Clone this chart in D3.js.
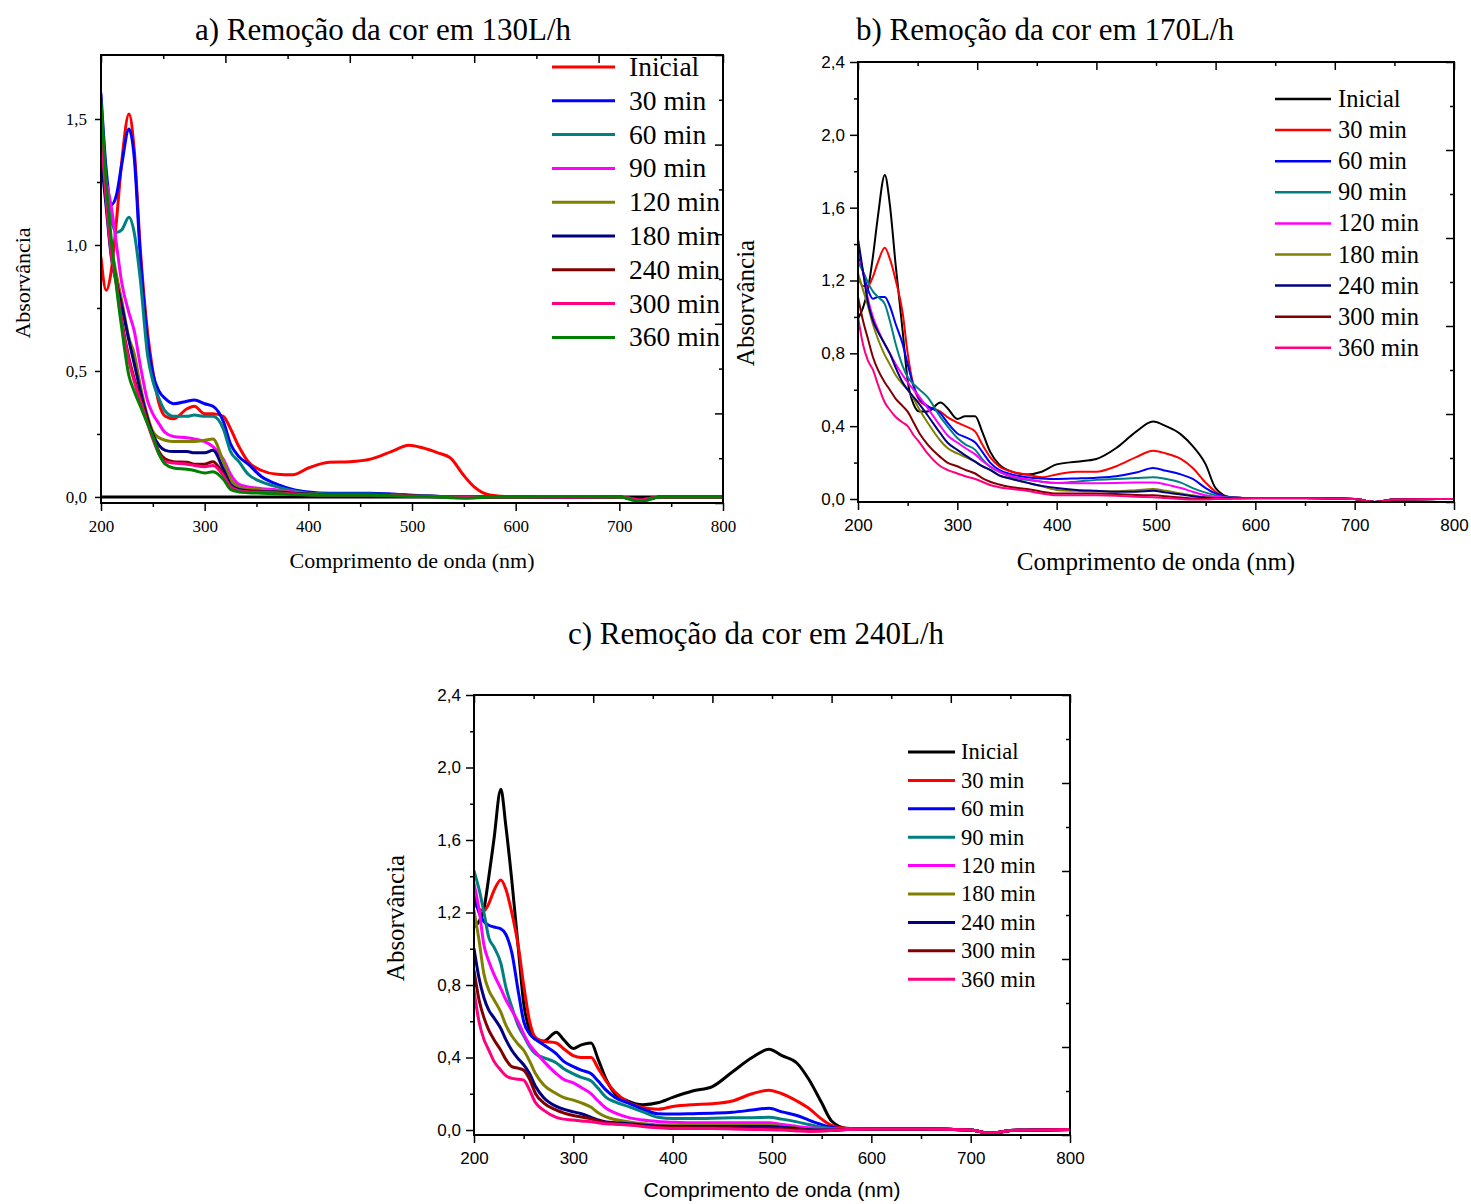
<!DOCTYPE html>
<html><head><meta charset="utf-8">
<script src="https://cdn.jsdelivr.net/npm/d3@7"></script>
<style>body{margin:0;background:#fff} svg{display:block}</style>
</head><body>
<svg id="chart" width="1471" height="1204"></svg>
<script>
// Wavelength grid (nm) shared by every spectrum
const wavelengths = [200,205,210,215,220,227,232,238,245,250,256,262,270,283,290,300,308,318,325,333,342,355,370,385,400,420,440,460,480,497,510,525,537,550,560,575,600,650,700,720,740,800];
const seriesLabels = ["Inicial","30 min","60 min","90 min","120 min","180 min","240 min","300 min","360 min"];
const xMajorTicks = [200,300,400,500,600,700,800];
const xMinorTicks = [250,350,450,550,650,750];

// a) 130 L/h
const abs130_inicial = [0.95,0.82,0.90,1.10,1.33,1.52,1.38,0.98,0.65,0.50,0.37,0.32,0.31,0.35,0.36,0.33,0.33,0.32,0.27,0.20,0.14,0.105,0.09,0.088,0.115,0.138,0.14,0.15,0.18,0.205,0.195,0.175,0.155,0.085,0.04,0.008,0.0,0.0,0.0,-0.01,0.0,0.0];
const abs130_30 = [1.60,1.30,1.16,1.20,1.32,1.46,1.35,0.95,0.62,0.49,0.42,0.39,0.37,0.38,0.385,0.37,0.36,0.30,0.21,0.16,0.13,0.08,0.05,0.03,0.02,0.015,0.015,0.015,0.012,0.008,0.005,0.003,0,0,0,0,0,0,0,-0.012,0,0];
const abs130_60 = [1.45,1.25,1.10,1.05,1.06,1.11,1.05,0.86,0.56,0.46,0.39,0.34,0.32,0.32,0.325,0.32,0.32,0.27,0.18,0.14,0.09,0.06,0.04,0.025,0.015,0.012,0.012,0.012,0.01,0.006,0.004,0.002,0,0,0,0,0,0,0,-0.012,0,0];
const abs130_90 = [1.35,1.25,1.15,1.00,0.85,0.73,0.66,0.52,0.38,0.33,0.29,0.255,0.24,0.235,0.23,0.22,0.20,0.15,0.09,0.05,0.04,0.033,0.028,0.02,0.012,0.01,0.01,0.01,0.008,0.005,0.003,0.002,0,0,0,0,0,0,0,-0.012,0,0];
const abs130_120 = [1.40,1.20,1.00,0.88,0.78,0.63,0.57,0.44,0.32,0.26,0.235,0.225,0.22,0.22,0.22,0.225,0.23,0.14,0.07,0.04,0.032,0.028,0.022,0.018,0.013,0.01,0.01,0.01,0.008,0.005,0.003,0.002,0,0,0,0,0,0,0,-0.012,0,0];
const abs130_180 = [1.35,1.15,0.95,0.85,0.76,0.62,0.53,0.42,0.31,0.25,0.205,0.185,0.18,0.18,0.175,0.175,0.185,0.11,0.05,0.03,0.025,0.022,0.02,0.015,0.012,0.01,0.01,0.01,0.008,0.005,0.003,0.002,0,0,0,0,0,0,0,-0.012,0,0];
const abs130_240 = [1.50,1.20,0.98,0.85,0.70,0.55,0.47,0.39,0.30,0.24,0.18,0.15,0.14,0.138,0.13,0.13,0.14,0.09,0.04,0.025,0.022,0.02,0.018,0.013,0.01,0.008,0.008,0.008,0.006,0.004,0.002,0.001,0,0,0,0,0,0,0,-0.012,0,0];
const abs130_300 = [1.45,1.18,0.96,0.84,0.69,0.54,0.46,0.38,0.29,0.23,0.17,0.14,0.135,0.13,0.125,0.12,0.125,0.085,0.04,0.025,0.02,0.018,0.016,0.012,0.009,0.008,0.008,0.008,0.006,0.004,0.002,0.001,0,0,0,0,0,0,0,-0.012,0,0];
const abs130_360 = [1.57,1.25,1.02,0.83,0.67,0.48,0.42,0.36,0.29,0.24,0.17,0.13,0.115,0.11,0.105,0.095,0.10,0.07,0.03,0.02,0.017,0.015,0.013,0.01,0.008,0.007,0.007,0.007,0.005,0.003,0.002,0.0,-0.003,-0.005,-0.004,0,0,0.002,0,-0.018,0,0];

// b) 170 L/h
const abs170_inicial = [0.99,1.05,1.15,1.33,1.55,1.78,1.62,1.28,0.92,0.65,0.52,0.48,0.48,0.53,0.50,0.44,0.455,0.455,0.37,0.26,0.19,0.15,0.135,0.15,0.19,0.205,0.22,0.28,0.37,0.425,0.40,0.355,0.29,0.19,0.06,0.01,0.005,0.005,0.0,-0.016,-0.003,0.0];
const abs170_30 = [1.22,1.17,1.17,1.22,1.30,1.38,1.32,1.20,1.02,0.80,0.62,0.54,0.51,0.48,0.45,0.42,0.40,0.37,0.30,0.23,0.18,0.15,0.135,0.12,0.135,0.15,0.15,0.18,0.23,0.265,0.25,0.22,0.17,0.09,0.04,0.01,0.005,0.005,0.0,-0.016,-0.003,0.0];
const abs170_60 = [1.35,1.25,1.15,1.10,1.11,1.11,1.06,0.96,0.85,0.74,0.62,0.55,0.51,0.47,0.42,0.36,0.34,0.31,0.26,0.20,0.16,0.135,0.12,0.113,0.11,0.113,0.117,0.125,0.145,0.17,0.155,0.135,0.11,0.06,0.03,0.01,0.005,0.005,0.0,-0.016,-0.003,0.0];
const abs170_90 = [1.30,1.25,1.19,1.14,1.11,1.07,0.98,0.85,0.73,0.67,0.63,0.60,0.56,0.45,0.40,0.335,0.30,0.27,0.22,0.176,0.15,0.12,0.105,0.095,0.088,0.095,0.105,0.11,0.115,0.12,0.11,0.09,0.06,0.035,0.02,0.008,0.005,0.005,0.0,-0.016,-0.003,0.0];
const abs170_120 = [1.39,1.25,1.10,1.00,0.93,0.85,0.80,0.74,0.68,0.64,0.60,0.56,0.50,0.40,0.35,0.31,0.28,0.245,0.21,0.18,0.15,0.125,0.11,0.095,0.088,0.087,0.087,0.088,0.09,0.09,0.08,0.06,0.04,0.02,0.012,0.006,0.005,0.005,0.0,-0.016,-0.003,0.0];
const abs170_180 = [1.24,1.15,1.06,0.96,0.88,0.79,0.74,0.68,0.63,0.60,0.55,0.49,0.42,0.32,0.28,0.25,0.23,0.205,0.18,0.16,0.13,0.11,0.09,0.07,0.05,0.045,0.042,0.042,0.048,0.055,0.045,0.03,0.02,0.01,0.006,0.005,0.005,0.005,0.0,-0.016,-0.003,0.0];
const abs170_240 = [1.43,1.25,1.08,0.98,0.92,0.85,0.80,0.72,0.64,0.60,0.56,0.52,0.46,0.36,0.31,0.27,0.24,0.205,0.18,0.16,0.13,0.11,0.09,0.072,0.06,0.05,0.045,0.04,0.04,0.045,0.035,0.025,0.015,0.008,0.005,0.005,0.005,0.005,0.0,-0.016,-0.003,0.0];
const abs170_300 = [1.11,0.98,0.88,0.78,0.71,0.64,0.60,0.55,0.51,0.48,0.42,0.36,0.30,0.23,0.20,0.18,0.16,0.14,0.115,0.095,0.08,0.065,0.055,0.04,0.03,0.03,0.03,0.028,0.022,0.02,0.015,0.008,0.003,0.0,0.0,0.002,0.004,0.004,0.0,-0.016,-0.003,0.0];
const abs170_360 = [1.00,0.85,0.76,0.71,0.63,0.53,0.49,0.45,0.42,0.40,0.35,0.31,0.25,0.18,0.16,0.14,0.125,0.11,0.095,0.077,0.065,0.055,0.045,0.03,0.02,0.02,0.02,0.018,0.012,0.01,0.005,0.0,-0.003,-0.003,0.0,0.002,0.004,0.004,0.0,-0.016,-0.003,0.0];

// c) 240 L/h
const abs240_inicial = [1.12,1.15,1.22,1.40,1.60,1.88,1.68,1.38,0.98,0.70,0.55,0.50,0.49,0.54,0.50,0.45,0.47,0.48,0.39,0.28,0.20,0.16,0.14,0.15,0.18,0.215,0.24,0.32,0.40,0.445,0.41,0.37,0.28,0.15,0.05,0.01,0.005,0.005,0.0,-0.018,-0.003,0.003];
const abs240_30 = [1.25,1.22,1.21,1.25,1.32,1.38,1.33,1.20,1.00,0.80,0.60,0.51,0.49,0.48,0.45,0.41,0.40,0.40,0.34,0.27,0.21,0.155,0.125,0.115,0.13,0.14,0.145,0.16,0.20,0.22,0.20,0.16,0.12,0.06,0.025,0.008,0.005,0.005,0.0,-0.018,-0.003,0.003];
const abs240_60 = [1.30,1.20,1.15,1.13,1.12,1.11,1.08,0.98,0.75,0.60,0.53,0.50,0.47,0.42,0.38,0.35,0.33,0.31,0.27,0.22,0.18,0.15,0.115,0.09,0.088,0.09,0.093,0.098,0.11,0.12,0.10,0.08,0.055,0.03,0.015,0.006,0.005,0.005,0.0,-0.018,-0.003,0.003];
const abs240_90 = [1.43,1.33,1.20,1.06,1.01,0.92,0.79,0.68,0.57,0.52,0.46,0.42,0.40,0.37,0.34,0.31,0.29,0.27,0.23,0.18,0.155,0.13,0.10,0.07,0.063,0.063,0.065,0.067,0.068,0.07,0.06,0.045,0.03,0.015,0.008,0.005,0.005,0.005,0.0,-0.018,-0.003,0.003];
const abs240_120 = [1.36,1.22,1.02,0.93,0.86,0.78,0.72,0.66,0.59,0.53,0.47,0.43,0.38,0.31,0.28,0.26,0.235,0.20,0.16,0.12,0.095,0.07,0.055,0.047,0.043,0.04,0.04,0.04,0.04,0.04,0.03,0.02,0.012,0.008,0.005,0.005,0.005,0.005,0.0,-0.018,-0.003,0.003];
const abs240_180 = [1.21,1.05,0.86,0.77,0.72,0.65,0.58,0.52,0.47,0.44,0.38,0.31,0.25,0.20,0.18,0.165,0.15,0.125,0.095,0.072,0.058,0.046,0.035,0.028,0.027,0.026,0.026,0.027,0.027,0.027,0.02,0.01,0.003,0.0,0.0,0.003,0.005,0.005,0.0,-0.018,-0.003,0.003];
const abs240_240 = [1.00,0.84,0.73,0.66,0.62,0.56,0.50,0.44,0.39,0.36,0.31,0.24,0.18,0.13,0.115,0.10,0.09,0.07,0.055,0.045,0.04,0.035,0.028,0.022,0.02,0.02,0.02,0.02,0.02,0.02,0.015,0.008,0.002,0.0,0.0,0.003,0.005,0.005,0.0,-0.018,-0.003,0.003];
const abs240_300 = [0.88,0.72,0.62,0.55,0.50,0.44,0.39,0.35,0.34,0.33,0.28,0.20,0.15,0.11,0.095,0.08,0.072,0.062,0.05,0.04,0.035,0.03,0.022,0.016,0.014,0.013,0.012,0.012,0.01,0.01,0.008,0.003,-0.002,-0.004,-0.002,0.003,0.005,0.005,0.0,-0.018,-0.003,0.003];
const abs240_360 = [0.77,0.60,0.50,0.44,0.38,0.33,0.30,0.285,0.28,0.275,0.22,0.15,0.11,0.07,0.06,0.055,0.05,0.045,0.04,0.035,0.032,0.028,0.02,0.012,0.008,0.008,0.008,0.006,0.003,0.002,0.0,-0.005,-0.008,-0.006,-0.003,0.003,0.005,0.005,0.0,-0.018,-0.003,0.003];

const colors130 = ["#ff0000","#0000ff","#008080","#ff00ff","#808000","#000080","#800000","#ff0080","#008000"];
const colorsOther = ["#000000","#ff0000","#0000ff","#008080","#ff00ff","#808000","#000080","#800000","#ff0080"];

const SERIF = "'Liberation Serif','Times New Roman',serif";
const SANS = "'Liberation Sans',Arial,sans-serif";
const comma = v => d3.format(".1f")(v).replace(".", ",");
const svg = d3.select("#chart");

function styleAxis(sel, font, size) {
  sel.select(".domain").remove();
  sel.selectAll(".tick line").attr("stroke", "#000").attr("stroke-width", 1.5);
  sel.selectAll(".tick text").attr("fill", "#000").attr("font-family", font).attr("font-size", size);
  sel.attr("font-family", null).attr("font-size", null);
}

function drawPanel(p) {
  const x = d3.scaleLinear().domain([200, 800]).range([p.left, p.right]);
  const y = d3.scaleLinear().domain(p.yDomain).range([p.bottom, p.top]);
  const g = svg.append("g");

  const clipId = "clip-" + p.id;
  g.append("clipPath").attr("id", clipId).append("rect")
    .attr("x", p.left).attr("y", p.top)
    .attr("width", p.right - p.left).attr("height", p.bottom - p.top);
  const plot = g.append("g").attr("clip-path", `url(#${clipId})`);

  if (p.zeroLine) {
    plot.append("line").attr("x1", x(200)).attr("x2", x(800))
      .attr("y1", y(0)).attr("y2", y(0))
      .attr("stroke", "#000").attr("stroke-width", 3);
  }

  const line = d3.line()
    .x((d, i) => x(wavelengths[i]))
    .y(d => y(d))
    .curve(d3.curveMonotoneX);

  p.series.forEach((s, i) => {
    plot.append("path").attr("d", line(s))
      .attr("fill", "none").attr("stroke", p.colors[i])
      .attr("stroke-width", p.lineWidth)
      .attr("stroke-linejoin", "round").attr("stroke-linecap", "round");
  });

  // bottom axis (outward ticks)
  g.append("g").attr("transform", `translate(0,${p.bottom})`)
    .call(d3.axisBottom(x).tickValues(xMajorTicks).tickSize(8).tickPadding(9).tickFormat(d3.format("d")))
    .call(s => styleAxis(s, p.tickFont, p.tickSize));
  g.append("g").attr("transform", `translate(0,${p.bottom})`)
    .call(d3.axisBottom(x).tickValues(xMinorTicks).tickSize(4).tickFormat(""))
    .call(s => styleAxis(s, p.tickFont, p.tickSize));

  // left axis (outward ticks)
  g.append("g").attr("transform", `translate(${p.left},0)`)
    .call(d3.axisLeft(y).tickValues(p.yMajor).tickSize(p.leftTick).tickPadding(p.leftPad).tickFormat(comma))
    .call(s => styleAxis(s, p.tickFont, p.tickSize));
  g.append("g").attr("transform", `translate(${p.left},0)`)
    .call(d3.axisLeft(y).tickValues(p.yMinor).tickSize(4).tickFormat(""))
    .call(s => styleAxis(s, p.tickFont, p.tickSize));

  // top and right axes: ten even divisions, ticks pointing inward
  const topVals = d3.range(0, 11).map(k => 200 + k * 60);
  const span = p.yDomain[1] - p.yDomain[0];
  const rightVals = d3.range(0, 11).map(k => p.yDomain[0] + k * span / 10);
  [[0, 8], [1, 4]].forEach(([par, len]) => {
    g.append("g").attr("transform", `translate(0,${p.top})`)
      .call(d3.axisBottom(x).tickValues(topVals.filter((v, k) => k % 2 === par)).tickSize(len).tickFormat(""))
      .call(s => styleAxis(s, p.tickFont, p.tickSize));
    g.append("g").attr("transform", `translate(${p.right},0)`)
      .call(d3.axisLeft(y).tickValues(rightVals.filter((v, k) => k % 2 === par)).tickSize(len).tickFormat(""))
      .call(s => styleAxis(s, p.tickFont, p.tickSize));
  });

  // frame
  g.append("rect").attr("x", p.left).attr("y", p.top)
    .attr("width", p.right - p.left).attr("height", p.bottom - p.top)
    .attr("fill", "none").attr("stroke", "#000").attr("stroke-width", 2);

  // title and axis labels
  g.append("text").attr("x", p.title.x).attr("y", p.title.y)
    .attr("text-anchor", "middle").attr("font-family", SERIF).attr("font-size", 31)
    .text(p.title.text);
  g.append("text").attr("transform", `translate(${p.yLabel.x},${p.yLabel.y}) rotate(-90)`)
    .attr("text-anchor", "middle").attr("dy", "0.35em")
    .attr("font-family", SERIF).attr("font-size", p.yLabel.size)
    .text("Absorvância");
  g.append("text").attr("x", p.xLabel.x).attr("y", p.xLabel.y)
    .attr("text-anchor", "middle").attr("dy", "0.35em")
    .attr("font-family", p.xLabel.font).attr("font-size", p.xLabel.size)
    .text("Comprimento de onda (nm)");

  // legend
  const L = p.legend;
  seriesLabels.forEach((lab, i) => {
    const yy = L.y0 + i * L.dy;
    g.append("line").attr("x1", L.x0).attr("x2", L.x1).attr("y1", yy).attr("y2", yy)
      .attr("stroke", p.colors[i]).attr("stroke-width", L.lw);
    g.append("text").attr("x", L.tx).attr("y", yy).attr("dy", "0.33em")
      .attr("font-family", SERIF).attr("font-size", L.size).text(lab);
  });
}

drawPanel({
  id: "a", left: 101, right: 723, top: 55, bottom: 503,
  yDomain: [-0.024, 1.754], yMajor: [0, 0.5, 1.0, 1.5], yMinor: [0.25, 0.75, 1.25],
  leftTick: 6, leftPad: 8, tickFont: SERIF, tickSize: 17,
  series: [abs130_inicial, abs130_30, abs130_60, abs130_90, abs130_120, abs130_180, abs130_240, abs130_300, abs130_360],
  colors: colors130, lineWidth: 3, zeroLine: true,
  title: { text: "a) Remoção da cor em 130L/h", x: 383, y: 40 },
  yLabel: { x: 22, y: 283, size: 22 },
  xLabel: { x: 412, y: 560, size: 22, font: SERIF },
  legend: { x0: 552, x1: 615, tx: 629, y0: 67, dy: 33.8, size: 27.5, lw: 3 }
});

drawPanel({
  id: "b", left: 858, right: 1454, top: 62, bottom: 502,
  yDomain: [-0.0165, 2.4], yMajor: [0, 0.4, 0.8, 1.2, 1.6, 2.0, 2.4], yMinor: [0.2, 0.6, 1.0, 1.4, 1.8, 2.2],
  leftTick: 8, leftPad: 5, tickFont: SANS, tickSize: 17,
  series: [abs170_inicial, abs170_30, abs170_60, abs170_90, abs170_120, abs170_180, abs170_240, abs170_300, abs170_360],
  colors: colorsOther, lineWidth: 2, zeroLine: false,
  title: { text: "b) Remoção da cor em 170L/h", x: 1045, y: 40 },
  yLabel: { x: 745, y: 303, size: 25 },
  xLabel: { x: 1156, y: 561, size: 25, font: SERIF },
  legend: { x0: 1275, x1: 1331, tx: 1338, y0: 99, dy: 31.1, size: 24.5, lw: 2.5 }
});

drawPanel({
  id: "c", left: 474, right: 1070, top: 695, bottom: 1135,
  yDomain: [-0.0275, 2.4], yMajor: [0, 0.4, 0.8, 1.2, 1.6, 2.0, 2.4], yMinor: [0.2, 0.6, 1.0, 1.4, 1.8, 2.2],
  leftTick: 8, leftPad: 5, tickFont: SANS, tickSize: 17,
  series: [abs240_inicial, abs240_30, abs240_60, abs240_90, abs240_120, abs240_180, abs240_240, abs240_300, abs240_360],
  colors: colorsOther, lineWidth: 3, zeroLine: false,
  title: { text: "c) Remoção da cor em 240L/h", x: 756, y: 644 },
  yLabel: { x: 395, y: 918, size: 25 },
  xLabel: { x: 772, y: 1190, size: 21, font: SANS },
  legend: { x0: 908, x1: 955, tx: 961, y0: 752, dy: 28.4, size: 22.5, lw: 3 }
});
</script>
</body></html>
